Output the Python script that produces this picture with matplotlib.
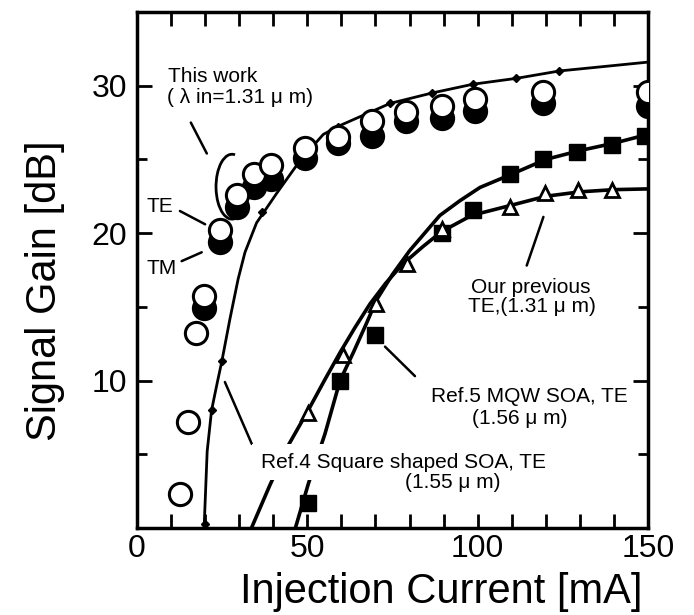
"""
Signal gain vs injection current for several SOAs (recreated figure)
"""
import matplotlib

matplotlib.use("Agg")
import matplotlib.pyplot as plt
from matplotlib.patches import Arc
from matplotlib.ticker import MultipleLocator

plt.rcParams["font.family"] = ["Liberation Sans", "DejaVu Sans"]

# This work, TE (open circles) and TM (filled circles)
te_current = [12.5, 15.1, 17.4, 19.7, 24.4, 29.3, 34.3, 39.3, 49.3, 58.9, 68.9, 78.9, 89.4, 99.2, 119.3, 150.0]
te_gain = [2.3, 7.2, 13.2, 15.75, 20.2, 22.6, 24.0, 24.6, 25.8, 26.5, 27.6, 28.2, 28.6, 29.1, 29.6, 29.6]
tm_current = [19.7, 24.4, 29.3, 34.3, 39.3, 49.3, 58.9, 68.9, 78.9, 89.4, 99.2, 119.3, 150.0]
tm_gain = [14.9, 19.4, 21.8, 23.1, 23.7, 25.1, 26.1, 26.6, 27.6, 27.8, 28.3, 28.8, 28.6]

# Ref.4 square shaped SOA (curve with small diamonds)
ref4_curve_x = [19.7, 20.6, 21.9, 23.6, 24.9, 27.3, 29.7, 31.7, 35.1, 41.0, 47.8, 54.7, 59.6, 74.3, 86.5, 98.6, 111.4, 124.0, 150.0]
ref4_curve_y = [0.0, 5.2, 8.0, 9.9, 11.3, 14.2, 16.9, 18.7, 20.7, 22.7, 24.9, 26.7, 27.3, 28.8, 29.5, 30.1, 30.5, 31.0, 31.6]
ref4_mark_x = [20.0, 21.9, 24.9, 36.6, 59.0, 74.3, 86.5, 98.6, 111.4, 124.0]
ref4_mark_y = [0.3, 8.0, 11.3, 21.4, 27.2, 28.8, 29.5, 30.1, 30.5, 31.0]

# Our previous TE (open triangles) and its fit
prev_x = [50.3, 60.6, 70.3, 79.4, 89.4, 109.5, 119.7, 129.5, 139.3]
prev_y = [7.8, 11.7, 15.2, 17.9, 20.3, 21.8, 22.7, 22.9, 22.95]
prev_fit_x = [33.6, 39.0, 44.4, 50.3, 55.0, 59.6, 64.0, 68.4, 73.0, 78.0, 84.0, 89.4, 98.2, 110.0, 120.0, 130.0, 140.0, 150.0]
prev_fit_y = [0.0, 2.9, 5.6, 8.0, 10.0, 11.9, 13.6, 15.2, 16.6, 17.9, 19.1, 20.1, 21.2, 21.9, 22.5, 22.8, 22.95, 23.0]

# Ref.5 MQW SOA (filled squares) and its fit
ref5_x = [50.2, 59.6, 69.9, 89.6, 98.5, 109.5, 119.3, 129.1, 139.3, 149.0]
ref5_y = [1.7, 10.0, 13.1, 20.0, 21.6, 24.0, 25.0, 25.5, 26.0, 26.6]
ref5_fit_x = [46.5, 50.3, 55.2, 59.6, 63.5, 67.4, 70.4, 75.0, 80.0, 88.9, 94.8, 100.7, 110.0, 120.0, 130.0, 140.0, 150.0]
ref5_fit_y = [0.0, 3.0, 6.4, 10.0, 11.9, 13.9, 15.5, 17.2, 18.8, 21.2, 22.2, 23.1, 24.0, 25.0, 25.6, 26.1, 26.7]

# labels: (text, x, y, ha)
labels = [
    ("This work", 9.1, 30.6, "left"),
    ("( λ in=1.31 μ m)", 8.8, 29.2, "left"),
    ("TE", 6.75, 21.8, "center"),
    ("TM", 7.3, 17.6, "center"),
    ("Our previous", 115.6, 16.3, "center"),
    ("TE,(1.31 μ m)", 115.9, 15.0, "center"),
    ("Ref.5 MQW SOA, TE", 115.1, 8.9, "center"),
    ("(1.56 μ m)", 112.3, 7.45, "center"),
    ("(1.55 μ m)", 92.7, 3.1, "center"),
]
ref4_label = ("Ref.4 Square shaped SOA, TE", 78.1, 4.46)

# leader lines: (start, end)
leaders = [
    ((15.8, 27.5), (20.5, 25.4)),
    ((12.6, 21.5), (20.0, 20.6)),
    ((13.1, 18.1), (19.0, 18.7)),
    ((25.8, 9.9), (33.7, 5.7)),
    ((72.8, 12.3), (81.6, 10.3)),
    ((119.3, 21.1), (114.4, 17.8)),
]

fig = plt.figure(figsize=(6.94, 6.15), dpi=100)
ax = fig.add_axes([0.1974, 0.1415, 0.7363, 0.839])

ax.plot(ref4_curve_x, ref4_curve_y, color="k", lw=2.0, zorder=2)
ax.plot(ref4_mark_x, ref4_mark_y, ls="none", marker="D", ms=4, color="k", zorder=3)
ax.plot(prev_fit_x, prev_fit_y, color="k", lw=2.6, zorder=2)
ax.plot(ref5_fit_x, ref5_fit_y, color="k", lw=2.6, zorder=2)

ax.plot(tm_current, tm_gain, ls="none", marker="o", ms=16, mfc="k", mec="k", mew=2.2, zorder=4)
ax.plot(te_current, te_gain, ls="none", marker="o", ms=16, mfc="white", mec="k", mew=2.2, zorder=5)
ax.plot(ref5_x, ref5_y, ls="none", marker="s", ms=11, mfc="k", mec="k", zorder=4)
ax.plot(prev_x, prev_y, ls="none", marker="^", ms=10, mfc="white", mec="k", mew=2.0, zorder=4)

ax.add_patch(Arc((27.9, 23.15), 9.4, 4.4, theta1=68, theta2=303, lw=2.0, color="k", zorder=6))

for (x0, y0), (x1, y1) in leaders:
    ax.annotate("", xy=(x1, y1), xytext=(x0, y0),
                arrowprops=dict(arrowstyle="-", lw=1.8, color="k", shrinkA=0, shrinkB=0))

# Ref.4 label sits on a white box so the two fits break behind it
ax.text(ref4_label[1], ref4_label[2], ref4_label[0], ha="center", va="center", fontsize=15,
        zorder=7, bbox=dict(facecolor="white", edgecolor="none", pad=6))
for text, x, y, ha in labels:
    ax.text(x, y, text, ha=ha, va="center", fontsize=15, zorder=8)

ax.set_xlim(0, 150)
ax.set_ylim(0, 35)
ax.xaxis.set_major_locator(MultipleLocator(50))
ax.xaxis.set_minor_locator(MultipleLocator(10))
ax.yaxis.set_minor_locator(MultipleLocator(5))
ax.set_yticks([10, 20, 30])
ax.tick_params(axis="x", which="both", direction="in", top=True, length=10, width=2, labelsize=23, pad=4)
ax.tick_params(axis="y", which="major", direction="in", right=True, length=11, width=2, labelsize=23, pad=7)
ax.tick_params(axis="y", which="minor", direction="in", right=True, length=7, width=2)
ax.get_xticklabels()[0].set_horizontalalignment("right")
for spine in ax.spines.values():
    spine.set_linewidth(2.5)

ax.set_xlabel("Injection Current [mA]", fontsize=30)
ax.set_ylabel("Signal Gain [dB]", fontsize=30)
ax.xaxis.set_label_coords(0.595, -0.085)
ax.yaxis.set_label_coords(-0.14, 0.46)

plt.savefig("out.png", dpi=100)
